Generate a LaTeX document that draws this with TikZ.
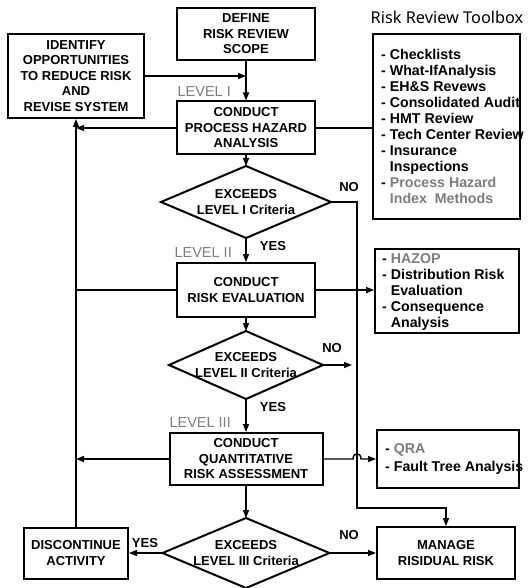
\documentclass[tikz,border=0pt]{standalone}
\usepackage{fontspec}
\setmainfont{Liberation Sans}
\newfontfamily\ttlfamily{Noto Sans}
\usetikzlibrary{arrows.meta,shapes.geometric,calc}
\definecolor{lvgray}{RGB}{125,125,125}
\newcommand\bxfont{\bfseries\fontsize{13}{15.5}\selectfont}
\newcommand\tbfont{\bfseries\fontsize{14.2}{16}\selectfont}
\newcommand\lvfont{\fontsize{14.5}{16}\selectfont}
\newcommand\ttlfont{\ttlfamily\fontsize{16.3}{18}\selectfont}
\begin{document}
\begin{tikzpicture}[x=1pt,y=-1pt,
  box/.style={draw,line width=2pt,align=center,font=\bxfont,inner sep=0pt},
  frame/.style={draw,line width=2pt,inner sep=0pt},
  ttext/.style={align=left,font=\tbfont,inner sep=0pt,anchor=west},
  dia/.style={draw,shape=diamond,line width=2pt,inner sep=0pt,outer sep=0pt},
  dtext/.style={font=\bxfont,align=center,inner sep=0pt},
  arr/.style={line width=1.4pt,-{Triangle[length=8pt,width=6pt]}},
  ln/.style={line width=1.4pt},
  lbl/.style={font=\lvfont,text=lvgray,inner sep=0pt,anchor=east},
  yn/.style={font=\bxfont,inner sep=0pt}]
\useasboundingbox[fill=white] (0,0) rectangle (531,588);

% boxes
\node[box,minimum width=138pt,minimum height=52pt] (define) at (246,34) {DEFINE\\RISK REVIEW\\SCOPE};
\node[box,minimum width=136pt,minimum height=84pt] (identify) at (76,76) {IDENTIFY\\OPPORTUNITIES\\TO REDUCE RISK\\AND\\REVISE SYSTEM};
\node[box,minimum width=138pt,minimum height=53pt] (pha) at (246,128) {CONDUCT\\PROCESS HAZARD\\ANALYSIS};
\node[box,minimum width=138pt,minimum height=54pt] (riskev) at (246,290) {CONDUCT\\RISK EVALUATION};
\node[box,minimum width=153pt,minimum height=52pt] (qra) at (246,459) {CONDUCT\\QUANTITATIVE\\RISK ASSESSMENT};
\node[box,minimum width=104pt,minimum height=51pt] (discont) at (76,553) {DISCONTINUE\\ACTIVITY};
\node[box,minimum width=138pt,minimum height=52pt] (manage) at (446,553) {MANAGE\\RISIDUAL RISK};

% toolboxes
\node[font=\ttlfont,inner sep=0pt] (title) at (447,17) {Risk Review Toolbox};
\node[frame,minimum width=147pt,minimum height=185pt] (toolbox) at (446.5,126.5) {};
\node[ttext] (tbtext) at ([xshift=9pt]toolbox.west) {%
-~Checklists\\
-~What-IfAnalysis\\
-~EH\&S Revews\\
-~Consolidated Audit\\
-~HMT Review\\
-~Tech Center Review\\
-~Insurance\\
\hphantom{-~}Inspections\\
-~{\color{lvgray}Process Hazard}\\
\hphantom{-~}{\color{lvgray}Index~~Methods}};
\node[frame,minimum width=144pt,minimum height=84pt] (hazop) at (447,291) {};
\node[ttext] (hztext) at ([xshift=8pt,yshift=-1pt]hazop.west) {%
-~{\color{lvgray}HAZOP}\\
-~Distribution Risk\\
\hphantom{-~}Evaluation\\
-~Consequence\\
\hphantom{-~}Analysis};
\node[frame,minimum width=142pt,minimum height=58pt] (qratools) at (448,459) {};
\node[ttext] (qrtext) at ([xshift=9pt]qratools.west) {%
-~{\color{lvgray}QRA}\\[1.5pt]
-~Fault Tree Analysis};

% diamonds
\node[dia,minimum width=170pt,minimum height=72pt] (d1) at (246,202) {};
\node[dtext] (d1t) at (d1.center) {EXCEEDS\\LEVEL I Criteria};
\node[dia,minimum width=154pt,minimum height=68pt] (d2) at (246,365) {};
\node[dtext] (d2t) at (d2.center) {EXCEEDS\\LEVEL II Criteria};
\node[dia,minimum width=167pt,minimum height=70pt] (d3) at (246,553) {};
\node[dtext] (d3t) at (d3.center) {EXCEEDS\\LEVEL III Criteria};

% labels
\node[lbl] (lv1) at (231,92) {LEVEL I};
\node[lbl] (lv2) at (232,253) {LEVEL II};
\node[lbl] (lv3) at (231,423) {LEVEL III};
\node[yn] (y1) at (273,246) {YES};
\node[yn] (n1) at (349,187) {NO};
\node[yn] (n2l) at (332,348) {NO};
\node[yn] (y2) at (273,407) {YES};
\node[yn] (y3) at (145,543) {YES};
\node[yn] (n3) at (349,535) {NO};

% connectors
\coordinate (j1) at (identify.east -| define.south);
\draw[arr] (define.south) -- (pha.north);
\draw[arr] (identify.east) -- (j1);
\draw[arr] (pha.west) -- (pha.west -| identify.south);
\draw[arr] (discont.north) -- (identify.south);
\draw[ln] (pha.east) -- (pha.east -| toolbox.west);
\draw[arr] (pha.south) -- (d1.north);
\draw[arr] (d1.south) -- (riskev.north);
\draw[ln] (riskev.west) -- (riskev.west -| identify.south);
\draw[arr] (riskev.east) -- (riskev.east -| hazop.west);
\draw[arr] (riskev.south) -- (d2.north);
\coordinate (n2end) at ([xshift=29pt]d2.east);
\draw[arr] (d2.east) -- (n2end);
\draw[arr] (d2.south) -- (qra.north);
\draw[arr] (qra.west) -- (qra.west -| identify.south);
\coordinate (nox) at ([xshift=26pt]d1.east);
\coordinate (nbend) at (0,508);
\draw[arr] (d1.east) -- (nox) -- (nox |- nbend) -| (manage.north);
\coordinate (hop) at (qra.east -| nox);
\draw[arr] (qra.east) -- ([xshift=-4pt]hop) .. controls +(0,-7) and +(0,-7) .. ([xshift=4pt]hop) -- (qratools.west);
\draw[arr] (qra.south) -- (d3.north);
\draw[arr] (d3.west) -- (d3.west -| discont.east);
\draw[arr] (d3.east) -- (d3.east -| manage.west);
\end{tikzpicture}
\end{document}
